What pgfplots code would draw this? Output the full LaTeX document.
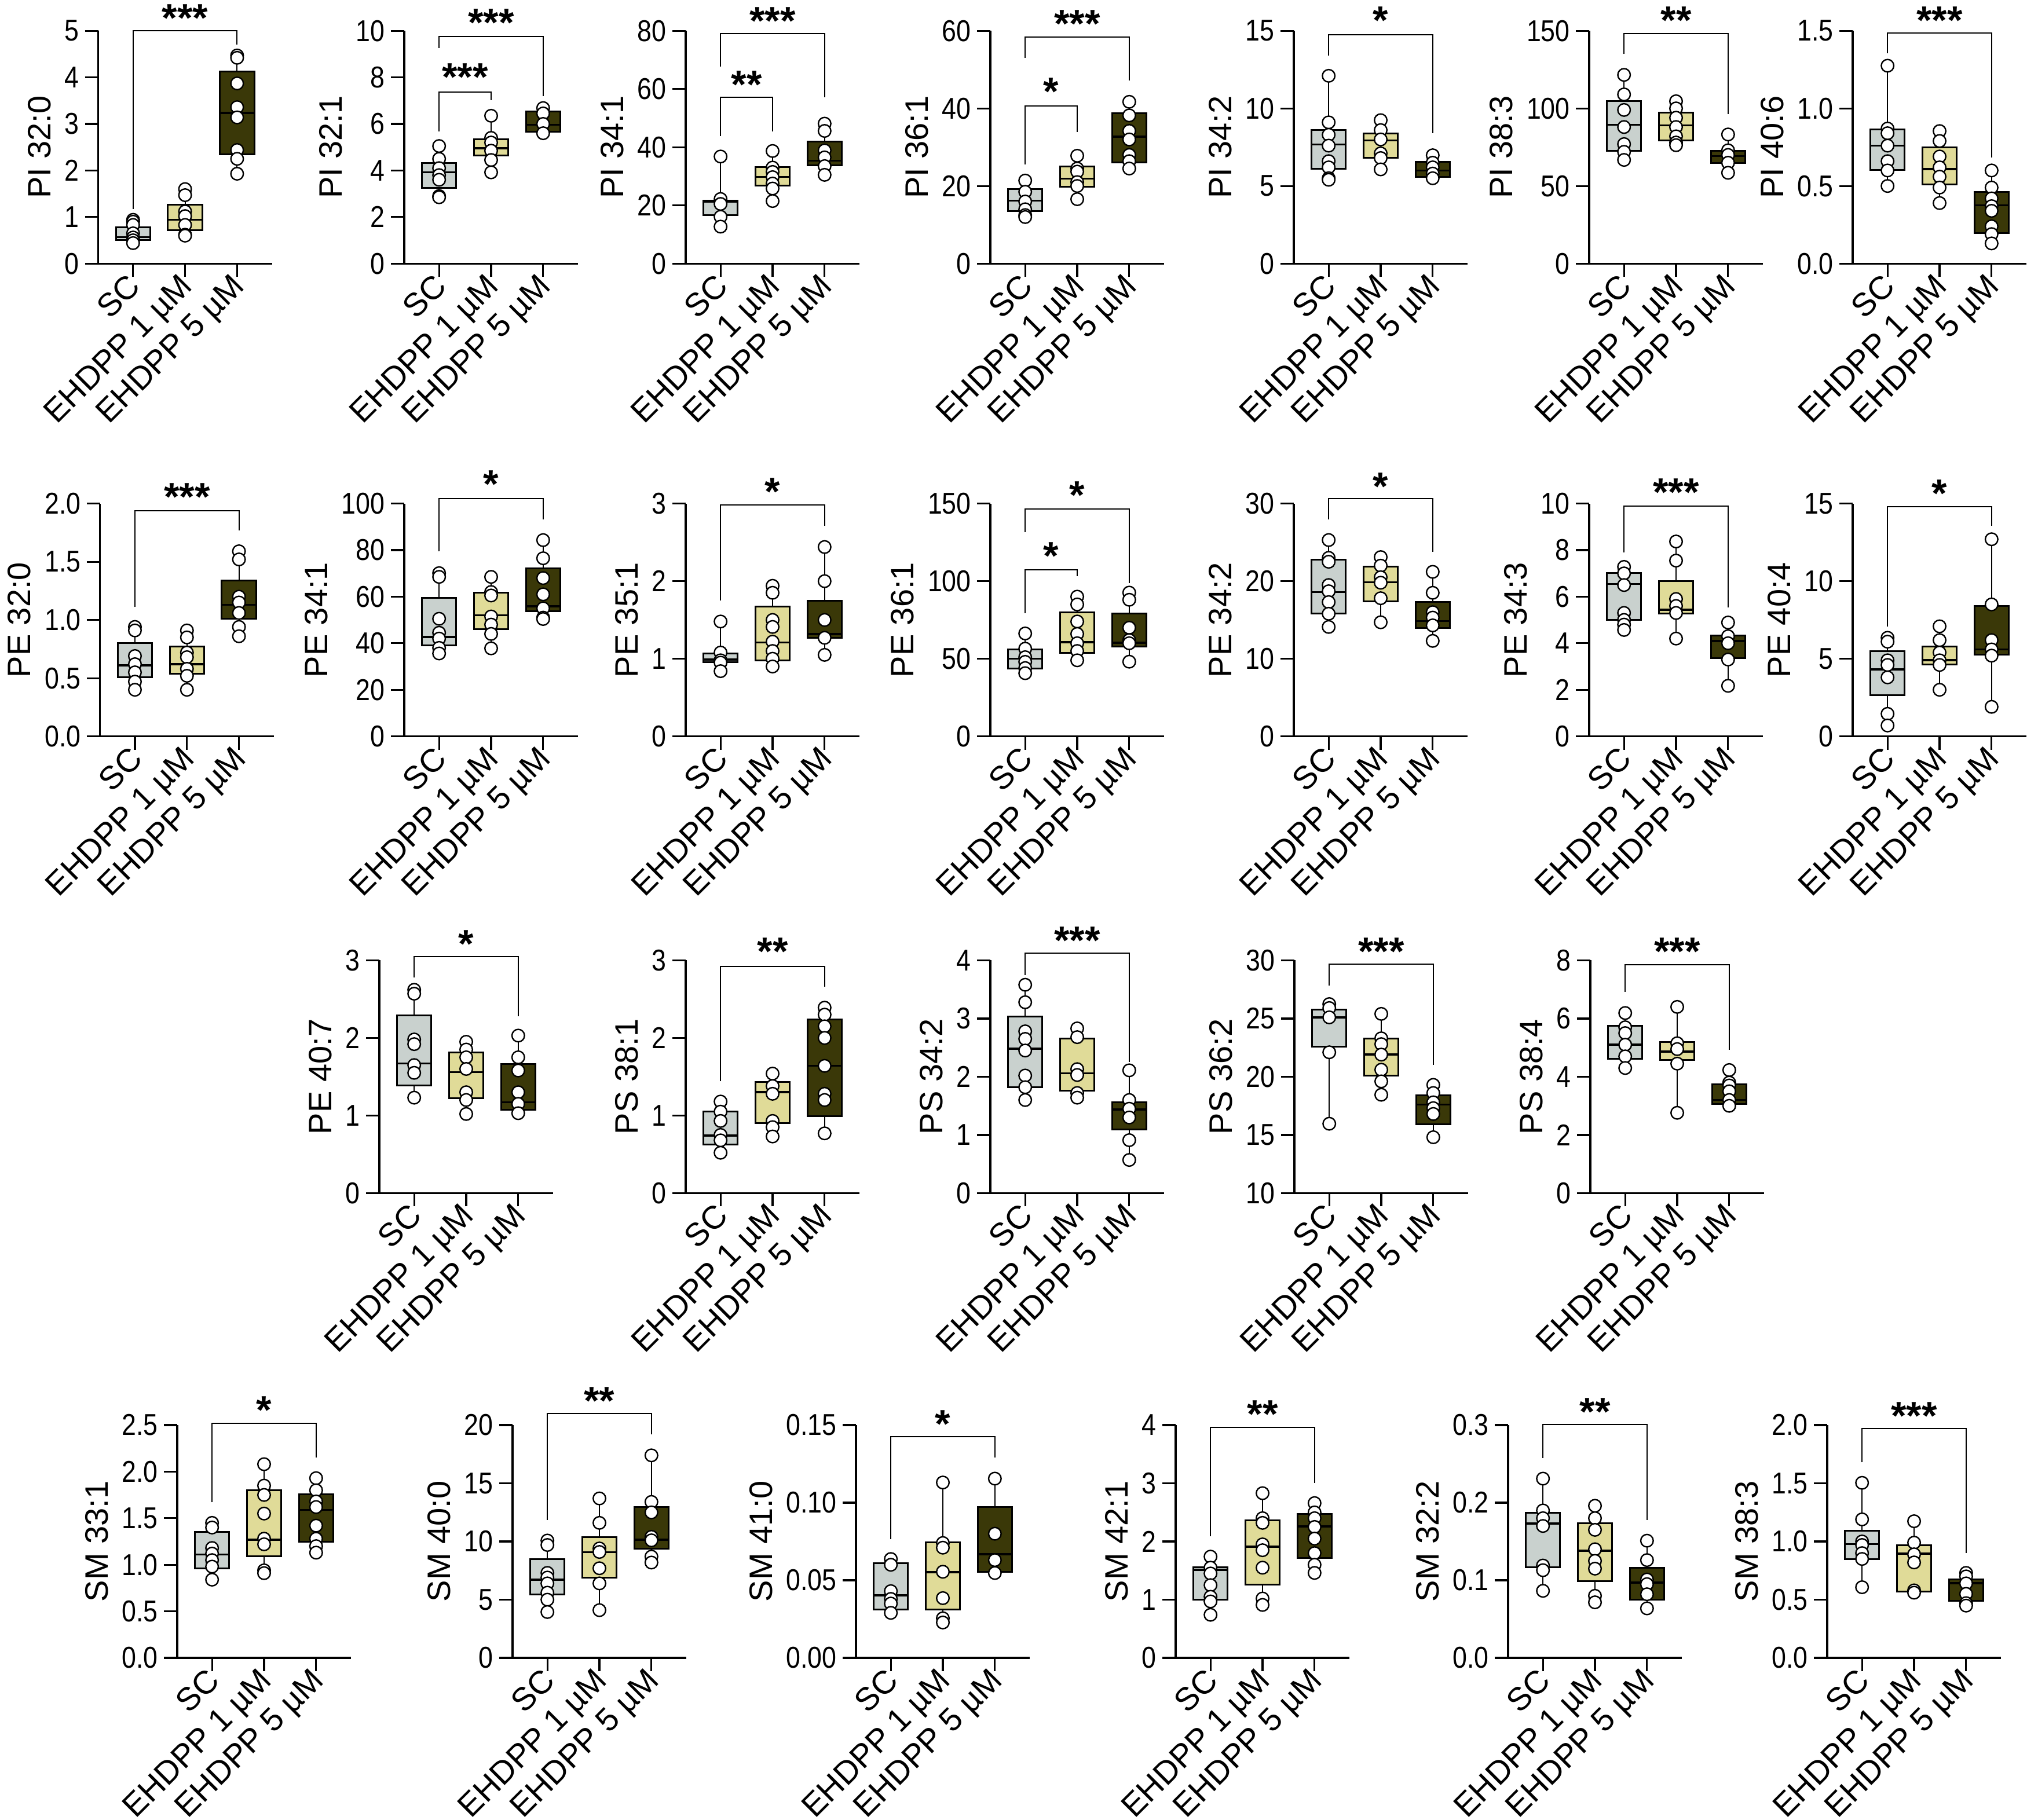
\documentclass[border=0pt]{standalone}
\usepackage{fontspec}
\setmainfont{Liberation Sans}
\newfontfamily\tickfont[FakeStretch=0.86]{Liberation Sans}
\usepackage{pgfplots}
\pgfplotsset{compat=1.18}
\usepgfplotslibrary{statistics}
\definecolor{cSC}{RGB}{201,209,206}
\definecolor{cA}{RGB}{224,219,152}
\definecolor{cB}{RGB}{58,56,8}
\pgfplotsset{
 panel/.style={
  width=75pt, height=100.5pt, scale only axis,
  xmin=-0.67, xmax=2.67, ymin=0,
  axis x line*=bottom, axis y line*=left,
  axis line style={line width=0.8pt, black},
  tick align=outside, major tick length=5.75pt,
  tick style={line width=0.8pt, black},
  xtick={0,1,2}, xticklabels={SC, EHDPP 1 µM, EHDPP 5 µM},
  xticklabel style={xshift=-3pt, yshift=2.3pt, rotate=45, anchor=north east, inner sep=0pt, font=\fontsize{14}{14}\selectfont},
  yticklabel style={inner xsep=2.4pt, font=\tickfont\fontsize{13}{13}\selectfont},
  ylabel style={font=\fontsize{14}{15}\selectfont},
  /pgf/number format/assume math mode=true,
  scaled y ticks=false, minor tick num=0,
  clip=false, anchor=south west,
  boxplot/draw direction=y,
  boxplot/box extend=0.66, boxplot/whisker extend=0.22,
  boxplot/every box/.style={line width=0.75pt},
  boxplot/every whisker/.style={line width=0.5pt},
  boxplot/every median/.style={line width=0.9pt},
 },
 dec1/.style={yticklabel style={/pgf/number format/.cd, fixed, fixed zerofill, precision=1}},
 dec2/.style={yticklabel style={/pgf/number format/.cd, fixed, fixed zerofill, precision=2}},
 pts/.style={only marks, mark=*, mark size=2.7pt, mark options={fill=white, draw=black, line width=0.6pt}},
}
% pos, colour, lower whisker, q1, median, q3, upper whisker, points
\newcommand{\grp}[8]{%
 \addplot[boxplot prepared={draw position=#1, lower whisker=#3, lower quartile=#4, median=#5, upper quartile=#6, upper whisker=#7}, draw=black, fill=#2] coordinates {};
 \addplot[pts] table[row sep=\\, header=false, x expr=#1, y index=0] {#8};
}
% x1, y1, ytop, x2, y2, xstar, ystar, stars
\newcommand{\brk}[8]{%
 \draw[line width=0.5pt] (axis cs:#1,#2) |- (axis cs:#4,#3) -- (axis cs:#4,#5);
 \node[font=\fontsize{17}{17}\selectfont\bfseries, inner sep=0pt, anchor=center, yshift=-3.6pt] at (axis cs:#6,#7) {#8};
}
\begin{document}
\begin{tikzpicture}
\path[use as bounding box] (0,0) rectangle (875pt,-785.75pt);

% ---------------- Row 1 ----------------
\begin{axis}[panel, at={(42.4pt,-113.8pt)}, ymax=5, ytick={0,1,2,3,4,5}, ylabel={PI 32:0}]
\grp{0}{cSC}{0.44}{0.50}{0.57}{0.78}{0.94}{0.94\\0.90\\0.83\\0.65\\0.56\\0.50\\0.44\\}
\grp{1}{cA}{0.60}{0.72}{0.94}{1.26}{1.60}{1.60\\1.47\\1.12\\1.02\\0.83\\0.62\\0.60\\}
\grp{2}{cB}{1.93}{2.35}{3.24}{4.13}{4.47}{4.47\\4.42\\3.87\\3.36\\3.14\\2.44\\2.25\\1.93\\}
\brk{0}{1.17}{5.0}{2}{4.70}{1}{5.45}{***}
\end{axis}

\begin{axis}[panel, at={(174.5pt,-113.8pt)}, ymax=10, ytick={0,2,4,6,8,10}, ylabel={PI 32:1}]
\grp{0}{cSC}{2.85}{3.25}{3.92}{4.32}{5.05}{5.05\\4.5\\4.1\\3.8\\3.6\\2.9\\2.85\\}
\grp{1}{cA}{3.92}{4.65}{4.96}{5.35}{6.35}{6.35\\5.4\\5.2\\4.85\\4.45\\3.92\\}
\grp{2}{cB}{5.56}{5.66}{5.96}{6.53}{6.68}{6.68\\6.45\\6.0\\5.6\\}
\brk{0}{9.27}{9.76}{2}{7.2}{1}{10.7}{***}
\brk{0}{5.68}{7.38}{1}{7.02}{0.5}{8.36}{***}
\end{axis}

\begin{axis}[panel, at={(296pt,-113.8pt)}, ymax=80, ytick={0,20,40,60,80}, ylabel={PI 34:1}]
\grp{0}{cSC}{12.7}{16.6}{21.2}{21.7}{36.8}{36.8\\22.2\\20.5\\16.1\\12.7\\}
\grp{1}{cA}{21.5}{26.8}{29.8}{33.2}{38.7}{38.7\\33.0\\31.5\\29.7\\27.5\\25.8\\21.5\\}
\grp{2}{cB}{30.5}{33.7}{35.4}{42.0}{48.1}{48.1\\45.6\\38.9\\36.5\\33.5\\30.5\\}
\brk{0}{67.8}{79.0}{2}{57.1}{1}{86.3}{***}
\brk{0}{43.9}{57.1}{1}{45.4}{0.5}{64.4}{**}
\end{axis}

\begin{axis}[panel, at={(427.5pt,-113.8pt)}, ymax=60, ytick={0,20,40,60}, ylabel={PI 36:1}]
\grp{0}{cSC}{11.9}{13.5}{16.2}{19.2}{21.4}{21.4\\18.5\\16.0\\14.0\\12.5\\12.0\\}
\grp{1}{cA}{16.6}{19.8}{21.9}{25.0}{27.8}{27.8\\24.5\\23.7\\21.0\\20.0\\16.6\\}
\grp{2}{cB}{24.4}{26.1}{32.7}{38.8}{41.7}{41.7\\38.2\\34.2\\32.0\\28.0\\26.4\\24.5\\}
\brk{0}{53}{58.4}{2}{47.2}{1}{64}{***}
\brk{0}{25.6}{40.6}{1}{33.9}{0.5}{46.5}{*}
\end{axis}

\begin{axis}[panel, at={(558.5pt,-113.8pt)}, ymax=15, ytick={0,5,10,15}, ylabel={PI 34:2}]
\grp{0}{cSC}{5.4}{6.1}{7.68}{8.6}{12.1}{12.1\\9.1\\8.3\\7.6\\6.6\\6.2\\5.5\\5.4\\}
\grp{1}{cA}{6.07}{6.8}{7.94}{8.4}{9.24}{9.24\\8.6\\8.0\\7.1\\6.8\\6.07\\}
\grp{2}{cB}{5.5}{5.6}{6.0}{6.57}{6.98}{6.98\\6.5\\6.2\\5.8\\5.5\\}
\brk{0}{13.4}{14.76}{2}{8.4}{1}{16.2}{*}
\end{axis}

\begin{axis}[panel, at={(686pt,-113.8pt)}, ymax=150, ytick={0,50,100,150}, ylabel={PI 38:3}]
\grp{0}{cSC}{66.8}{72.6}{89.4}{104.6}{121.6}{121.6\\109\\99\\88\\77\\72\\66.8\\}
\grp{1}{cA}{76.3}{79.4}{89}{97.3}{104.6}{104.6\\100\\94\\88\\82\\78\\76.3\\}
\grp{2}{cB}{58.5}{64.8}{69.3}{72.6}{83.2}{83.2\\73\\70\\65\\58.5\\}
\brk{0}{135}{148.3}{2}{96.4}{1}{162}{**}
\end{axis}

\begin{axis}[panel, dec1, at={(799.75pt,-113.8pt)}, ymax=1.5, ytick={0,0.5,1,1.5}, ylabel={PI 40:6}]
\grp{0}{cSC}{0.50}{0.604}{0.76}{0.865}{1.275}{1.275\\0.87\\0.84\\0.76\\0.66\\0.60\\0.50\\}
\grp{1}{cA}{0.39}{0.51}{0.61}{0.75}{0.854}{0.854\\0.79\\0.69\\0.62\\0.56\\0.49\\0.39\\}
\grp{2}{cB}{0.13}{0.196}{0.375}{0.461}{0.60}{0.60\\0.49\\0.42\\0.37\\0.34\\0.24\\0.19\\0.13\\}
\brk{0}{1.357}{1.487}{2}{0.682}{1}{1.62}{***}
\end{axis}

% ---------------- Row 2 ----------------
\begin{axis}[panel, dec1, at={(43.2pt,-317.9pt)}, ymax=2, ytick={0,0.5,1,1.5,2}, ylabel={PE 32:0}]
\grp{0}{cSC}{0.40}{0.506}{0.61}{0.80}{0.94}{0.94\\0.91\\0.69\\0.62\\0.55\\0.47\\0.40\\}
\grp{1}{cA}{0.40}{0.54}{0.62}{0.77}{0.91}{0.91\\0.85\\0.72\\0.68\\0.58\\0.52\\0.40\\}
\grp{2}{cB}{0.86}{1.01}{1.13}{1.34}{1.59}{1.59\\1.52\\1.20\\1.15\\1.06\\0.94\\0.86\\}
\brk{0}{1.11}{1.94}{2}{1.77}{1}{2.13}{***}
\end{axis}

\begin{axis}[panel, at={(174.5pt,-317.9pt)}, ymax=100, ytick={0,20,40,60,80,100}, ylabel={PE 34:1}]
\grp{0}{cSC}{35.6}{39}{42.7}{59.6}{70.1}{70.1\\68.5\\50.5\\44.5\\42\\38\\35.6\\}
\grp{1}{cA}{37.8}{46}{52}{61.7}{68.5}{68.5\\62\\60.5\\51.5\\48\\44\\37.8\\}
\grp{2}{cB}{50.4}{53.7}{55.9}{72.2}{84.3}{84.3\\76.5\\68\\61\\55\\51\\50.4\\}
\brk{0}{79.4}{102.2}{2}{93.2}{1}{112}{*}
\end{axis}

\begin{axis}[panel, at={(296pt,-317.9pt)}, ymax=3, ytick={0,1,2,3}, ylabel={PE 35:1}]
\grp{0}{cSC}{0.84}{0.956}{0.99}{1.067}{1.48}{1.48\\1.08\\0.98\\0.95\\0.84\\}
\grp{1}{cA}{0.90}{0.98}{1.21}{1.67}{1.94}{1.94\\1.85\\1.50\\1.41\\1.22\\1.10\\1.00\\0.90\\}
\grp{2}{cB}{1.05}{1.27}{1.32}{1.75}{2.44}{2.44\\2.0\\1.5\\1.27\\1.05\\}
\brk{0}{1.75}{2.985}{2}{2.71}{1}{3.26}{*}
\end{axis}

\begin{axis}[panel, at={(427.5pt,-317.9pt)}, ymax=150, ytick={0,50,100,150}, ylabel={PE 36:1}]
\grp{0}{cSC}{40.7}{43.7}{50}{56.1}{66.3}{66.3\\56.5\\51\\48\\44\\40.7\\}
\grp{1}{cA}{49}{53.9}{60.7}{79.8}{90}{90\\85\\74\\66\\60\\55\\49\\}
\grp{2}{cB}{48.1}{58}{60.2}{79.3}{92.6}{92.6\\88\\70\\62\\60\\48.1\\}
\brk{0}{131.5}{146.5}{2}{98.7}{1}{160.7}{*}
\brk{0}{79.3}{107.4}{1}{103.3}{0.5}{121.5}{*}
\end{axis}

\begin{axis}[panel, at={(558.5pt,-317.9pt)}, ymax=30, ytick={0,10,20,30}, ylabel={PE 34:2}]
\grp{0}{cSC}{14.1}{15.85}{18.6}{22.8}{25.3}{25.3\\23\\22.5\\19.5\\18.7\\17.3\\15.8\\14.1\\}
\grp{1}{cA}{14.7}{17.4}{19.85}{21.85}{23.1}{23.1\\22\\20.5\\19.8\\17.8\\14.7\\}
\grp{2}{cB}{12.3}{14}{14.85}{17.3}{21.2}{21.2\\18.5\\16\\15.3\\14.3\\12.3\\}
\brk{0}{27.96}{30.67}{2}{23.8}{1}{33.3}{*}
\end{axis}

\begin{axis}[panel, at={(686pt,-317.9pt)}, ymax=10, ytick={0,2,4,6,8,10}, ylabel={PE 34:3}]
\grp{0}{cSC}{4.57}{5.0}{6.54}{7.01}{7.28}{7.28\\7.0\\6.5\\5.3\\5.0\\4.8\\4.57\\}
\grp{1}{cA}{4.2}{5.28}{5.44}{6.67}{8.37}{8.37\\7.55\\5.9\\5.6\\5.3\\4.2\\}
\grp{2}{cB}{2.17}{3.36}{4.09}{4.32}{4.89}{4.89\\4.3\\4.0\\3.3\\2.17\\}
\brk{0}{7.9}{9.89}{2}{5.53}{1}{10.84}{***}
\end{axis}

\begin{axis}[panel, at={(799.75pt,-317.9pt)}, ymax=15, ytick={0,5,10,15}, ylabel={PE 40:4}]
\grp{0}{cSC}{0.70}{2.65}{4.31}{5.48}{6.35}{6.35\\6.1\\4.9\\4.6\\3.8\\1.45\\0.70\\}
\grp{1}{cA}{3.0}{4.63}{4.9}{5.8}{7.09}{7.09\\6.2\\5.4\\4.9\\4.6\\3.0\\}
\grp{2}{cB}{1.9}{5.28}{5.6}{8.39}{12.7}{12.7\\8.5\\6.2\\5.6\\5.2\\1.9\\}
\brk{0}{7.09}{14.78}{2}{13.57}{1}{16.2}{*}
\end{axis}

% ---------------- Row 3 ----------------
\begin{axis}[panel, at={(163.75pt,-515.1pt)}, ymax=3, ytick={0,1,2,3}, ylabel={PE 40:7}]
\grp{0}{cSC}{1.23}{1.39}{1.67}{2.29}{2.62}{2.62\\2.57\\1.98\\1.92\\1.65\\1.55\\1.23\\}
\grp{1}{cA}{1.02}{1.22}{1.56}{1.81}{1.95}{1.95\\1.85\\1.75\\1.6\\1.3\\1.2\\1.02\\}
\grp{2}{cB}{1.03}{1.075}{1.17}{1.666}{2.03}{2.03\\1.75\\1.58\\1.3\\1.15\\1.03\\}
\brk{0}{2.78}{3.05}{2}{2.28}{1}{3.32}{*}
\end{axis}

\begin{axis}[panel, at={(296pt,-515.1pt)}, ymax=3, ytick={0,1,2,3}, ylabel={PS 38:1}]
\grp{0}{cSC}{0.52}{0.628}{0.742}{1.054}{1.18}{1.18\\1.05\\0.93\\0.75\\0.68\\0.52\\}
\grp{1}{cA}{0.73}{0.906}{1.30}{1.43}{1.54}{1.54\\1.38\\1.28\\0.93\\0.85\\0.73\\}
\grp{2}{cB}{0.77}{0.99}{1.64}{2.24}{2.39}{2.39\\2.30\\2.15\\2.0\\1.64\\1.28\\1.20\\0.77\\}
\brk{0}{1.44}{2.92}{2}{2.66}{1}{3.22}{**}
\end{axis}

\begin{axis}[panel, at={(427.5pt,-515.1pt)}, ymax=4, ytick={0,1,2,3,4}, ylabel={PS 34:2}]
\grp{0}{cSC}{1.60}{1.82}{2.48}{3.03}{3.58}{3.58\\3.28\\2.78\\2.65\\2.45\\2.02\\1.82\\1.60\\}
\grp{1}{cA}{1.64}{1.76}{2.06}{2.66}{2.83}{2.83\\2.68\\2.13\\2.03\\1.72\\1.64\\}
\grp{2}{cB}{0.57}{1.09}{1.44}{1.56}{2.11}{2.11\\1.6\\1.45\\1.3\\0.91\\0.57\\}
\brk{0}{3.75}{4.12}{2}{2.25}{1}{4.48}{***}
\end{axis}

\begin{axis}[panel, at={(558.75pt,-515.1pt)}, ymin=10, ymax=30, ytick={10,15,20,25,30}, ylabel={PS 36:2}]
\grp{0}{cSC}{15.96}{22.56}{25.1}{25.79}{26.24}{26.24\\25.9\\25.1\\22.1\\15.96\\}
\grp{1}{cA}{18.45}{20.08}{21.9}{23.3}{25.4}{25.4\\23.3\\22.8\\21.9\\20.6\\19.6\\18.45\\}
\grp{2}{cB}{14.8}{15.9}{17.6}{18.4}{19.3}{19.3\\18.6\\17.8\\17.3\\16.8\\14.8\\}
\brk{0}{27.84}{29.67}{2}{21.0}{1}{31.5}{***}
\end{axis}

\begin{axis}[panel, at={(686.5pt,-515.1pt)}, ymax=8, ytick={0,2,4,6,8}, ylabel={PS 38:4}]
\grp{0}{cSC}{4.21}{4.62}{5.1}{5.76}{6.19}{6.19\\5.7\\5.5\\5.1\\4.7\\4.3\\}
\grp{1}{cA}{2.76}{4.57}{4.87}{5.2}{6.4}{6.4\\5.15\\4.95\\4.45\\2.76\\}
\grp{2}{cB}{2.94}{3.07}{3.2}{3.74}{4.23}{4.23\\3.8\\3.7\\3.5\\3.2\\3.0\\}
\brk{0}{6.92}{7.84}{2}{4.92}{1}{8.6}{***}
\end{axis}

% ---------------- Row 4 ----------------
\begin{axis}[panel, dec1, at={(76.5pt,-715.75pt)}, ymax=2.5, ytick={0,0.5,1,1.5,2,2.5}, ylabel={SM 33:1}]
\grp{0}{cSC}{0.84}{0.96}{1.11}{1.35}{1.45}{1.45\\1.40\\1.18\\1.12\\1.05\\0.98\\0.84\\}
\grp{1}{cA}{0.91}{1.09}{1.27}{1.80}{2.08}{2.08\\1.85\\1.75\\1.55\\1.28\\1.22\\0.94\\0.91\\}
\grp{2}{cB}{1.13}{1.25}{1.59}{1.76}{1.93}{1.93\\1.80\\1.68\\1.62\\1.42\\1.28\\1.20\\1.13\\}
\brk{0}{1.67}{2.52}{2}{2.15}{1}{2.75}{*}
\end{axis}

\begin{axis}[panel, at={(221.25pt,-715.75pt)}, ymax=20, ytick={0,5,10,15,20}, ylabel={SM 40:0}]
\grp{0}{cSC}{3.94}{5.43}{6.73}{8.5}{10.08}{10.08\\9.7\\7.3\\6.9\\6.4\\5.6\\5.0\\3.94\\}
\grp{1}{cA}{4.1}{6.9}{9.09}{10.37}{13.7}{13.7\\11.6\\9.4\\9.1\\7.7\\6.4\\4.1\\}
\grp{2}{cB}{8.19}{9.37}{10.15}{12.96}{17.4}{17.4\\13.4\\12.5\\10.4\\10.1\\8.7\\8.19\\}
\brk{0}{11.85}{21.0}{2}{19.2}{1}{22.8}{**}
\end{axis}

\begin{axis}[panel, dec2, at={(369.5pt,-715.75pt)}, ymax=0.15, ytick={0,0.05,0.1,0.15}, ylabel={SM 41:0}]
\grp{0}{cSC}{0.0278}{0.0313}{0.0402}{0.0611}{0.0637}{0.0637\\0.060\\0.043\\0.038\\0.035\\0.029\\}
\grp{1}{cA}{0.0228}{0.0313}{0.0553}{0.0744}{0.113}{0.113\\0.074\\0.071\\0.0555\\0.0385\\0.0255\\0.0228\\}
\grp{2}{cB}{0.0547}{0.0556}{0.0668}{0.0972}{0.1155}{0.1155\\0.080\\0.063\\0.0547\\}
\brk{0}{0.0765}{0.1424}{2}{0.129}{1}{0.156}{*}
\end{axis}

\begin{axis}[panel, at={(507.5pt,-715.75pt)}, ymax=4, ytick={0,1,2,3,4}, ylabel={SM 42:1}]
\grp{0}{cSC}{0.74}{1.0}{1.51}{1.553}{1.74}{1.74\\1.55\\1.45\\1.25\\1.05\\0.97\\0.74\\}
\grp{1}{cA}{0.91}{1.26}{1.91}{2.36}{2.83}{2.83\\2.40\\2.32\\1.95\\1.85\\1.55\\1.02\\0.91\\}
\grp{2}{cB}{1.46}{1.72}{2.26}{2.47}{2.66}{2.66\\2.50\\2.40\\2.25\\2.05\\1.80\\1.60\\1.46\\}
\brk{0}{2.09}{3.96}{2}{3.01}{1}{4.33}{**}
\end{axis}

\begin{axis}[panel, dec1, at={(651pt,-715.75pt)}, ymax=0.3, ytick={0,0.1,0.2,0.3}, ylabel={SM 32:2}]
\grp{0}{cSC}{0.0864}{0.1165}{0.173}{0.187}{0.231}{0.231\\0.19\\0.18\\0.17\\0.119\\0.113\\0.0864\\}
\grp{1}{cA}{0.0716}{0.099}{0.138}{0.1735}{0.196}{0.196\\0.18\\0.165\\0.14\\0.125\\0.115\\0.08\\0.0716\\}
\grp{2}{cB}{0.0638}{0.0751}{0.097}{0.1158}{0.151}{0.151\\0.126\\0.101\\0.095\\0.082\\0.0638\\}
\brk{0}{0.2575}{0.301}{2}{0.178}{1}{0.328}{**}
\end{axis}

\begin{axis}[panel, dec1, at={(788.75pt,-715.75pt)}, ymax=2, ytick={0,0.5,1,1.5,2}, ylabel={SM 38:3}]
\grp{0}{cSC}{0.607}{0.848}{0.978}{1.09}{1.504}{1.504\\1.19\\1.0\\0.97\\0.9\\0.85\\0.607\\}
\grp{1}{cA}{0.56}{0.571}{0.895}{0.966}{1.174}{1.174\\0.99\\0.89\\0.82\\0.58\\0.56\\}
\grp{2}{cB}{0.449}{0.489}{0.642}{0.673}{0.73}{0.73\\0.70\\0.64\\0.55\\0.47\\0.449\\}
\brk{0}{1.68}{1.97}{2}{0.902}{1}{2.15}{***}
\end{axis}
\end{tikzpicture}
\end{document}
